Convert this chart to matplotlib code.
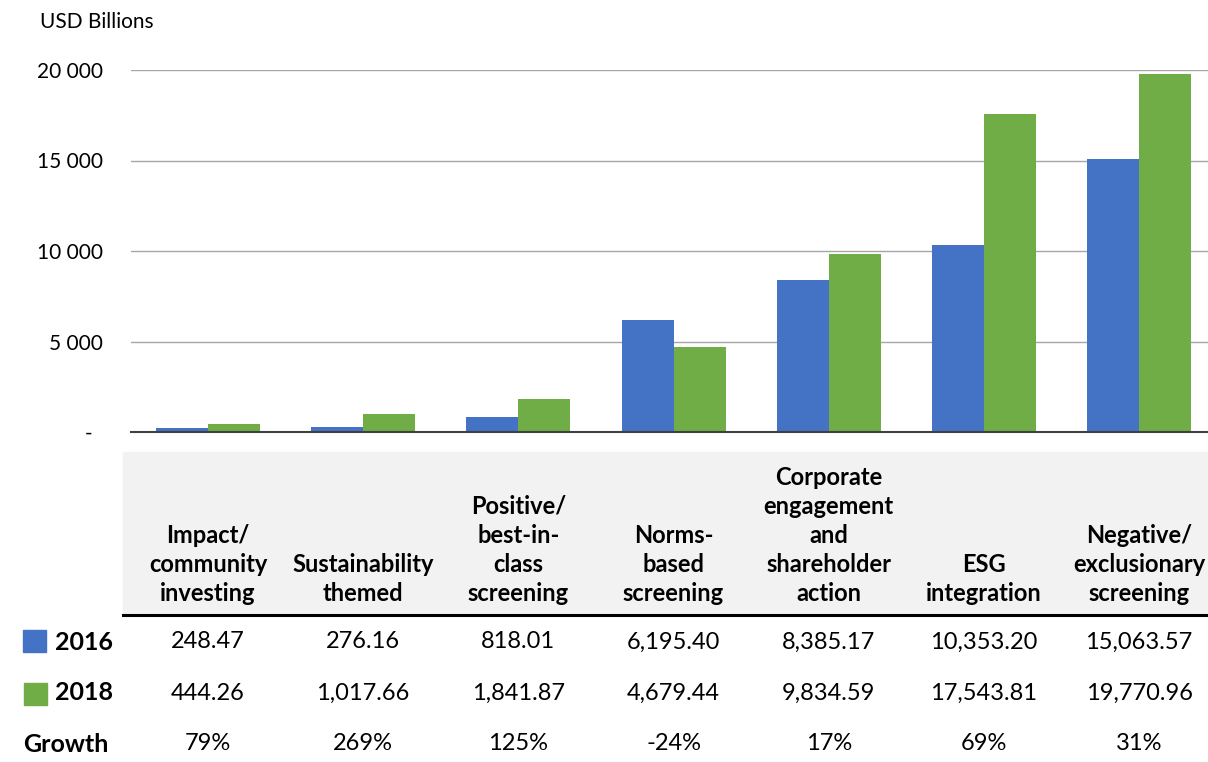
import matplotlib.pyplot as plt
import numpy as np
from matplotlib.patches import Rectangle
from matplotlib.transforms import blended_transform_factory

categories = ['Impact/\ncommunity\ninvesting', 'Sustainability\nthemed',
              'Positive/\nbest-in-\nclass\nscreening', 'Norms-\nbased\nscreening',
              'Corporate\nengagement\nand\nshareholder\naction', 'ESG\nintegration',
              'Negative/\nexclusionary\nscreening']
v2016 = [248.47, 276.16, 818.01, 6195.40, 8385.17, 10353.20, 15063.57]
v2018 = [444.26, 1017.66, 1841.87, 4679.44, 9834.59, 17543.81, 19770.96]
growth = ['79%', '269%', '125%', '-24%', '17%', '69%', '31%']
yticks = [0, 5000, 10000, 15000, 20000]
ytick_labels = ['-  ', '5 000', '10 000', '15 000', '20 000']

blue = '#4472C4'
green = '#70AD47'

plt.rcParams['font.family'] = ['Lato', 'DejaVu Sans']

W, H = 1208, 762
fig = plt.figure(figsize=(W / 100, H / 100), dpi=100)

def fy(py):
    return 1 - py / H

ax = fig.add_axes([131 / W, fy(432), 1 - 131 / W, fy(70) - fy(432)])
x = np.arange(len(categories))
width = 0.335
ax.bar(x - width / 2, v2016, width, color=blue, zorder=3)
ax.bar(x + width / 2, v2018, width, color=green, zorder=3)
ax.set_xlim(-0.496, 6.444)
ax.set_ylim(0, 20000)
ax.set_yticks(yticks)
ax.set_yticklabels(ytick_labels, fontsize=15)
ax.set_xticks([])
ax.tick_params(axis='y', length=0, pad=20)
ax.grid(axis='y', color='#A6A6A6', linewidth=1, zorder=0)
for s in ['top', 'right', 'left']:
    ax.spines[s].set_visible(False)
ax.spines['bottom'].set_color('#404040')
ax.spines['bottom'].set_linewidth(1.5)
ax.spines['bottom'].set_zorder(4)
fig.text(40 / W, fy(22), 'USD Billions', fontsize=15, va='center', ha='left')

# table under the bars, columns share the bar x positions
tr = blended_transform_factory(ax.transData, fig.transFigure)
fig.patches.append(Rectangle((123 / W, fy(615)), 1 - 123 / W, fy(452) - fy(615),
                             transform=fig.transFigure, color='#F2F2F2', zorder=0))
fig.add_artist(plt.Line2D([123 / W, 1], [fy(615), fy(615)], transform=fig.transFigure,
                          color='black', linewidth=2.2))

for i, c in enumerate(categories):
    fig.text(i, fy(605), c, transform=tr, ha='center', va='bottom', fontsize=17,
             fontweight='bold', linespacing=1.32)
    fig.text(i, fy(642), f'{v2016[i]:,.2f}', transform=tr, ha='center', va='center', fontsize=17)
    fig.text(i, fy(693), f'{v2018[i]:,.2f}', transform=tr, ha='center', va='center', fontsize=17)
    fig.text(i, fy(744), growth[i], transform=tr, ha='center', va='center', fontsize=17)

fig.patches.append(Rectangle((23 / W, fy(652)), 23 / W, 22 / H, transform=fig.transFigure,
                             color=blue))
fig.patches.append(Rectangle((24 / W, fy(705)), 23 / W, 22 / H, transform=fig.transFigure,
                             color=green))
fig.text(55 / W, fy(642), '2016', fontsize=18, fontweight='bold', va='center')
fig.text(55 / W, fy(693), '2018', fontsize=18, fontweight='bold', va='center')
fig.text(23 / W, fy(744), 'Growth', fontsize=18, fontweight='bold', va='center')

fig.savefig('out.png', dpi=100)
